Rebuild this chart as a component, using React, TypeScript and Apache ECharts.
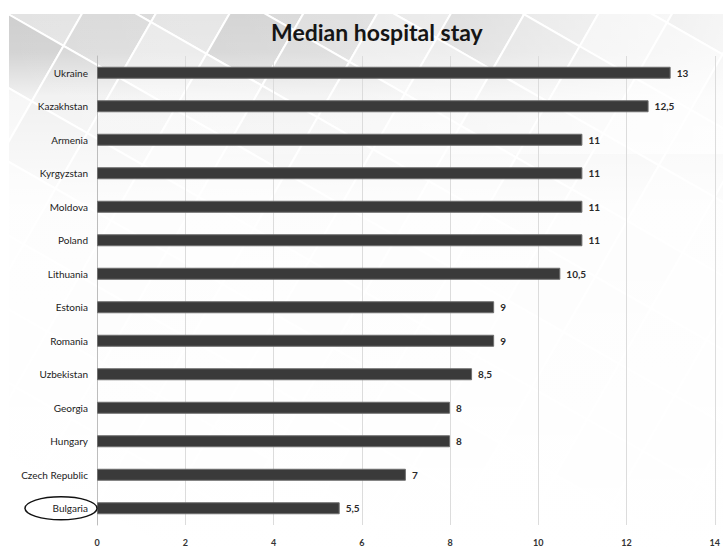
import React, { useEffect, useRef } from "react";
import * as echarts from "echarts";

const countries = [
  "Ukraine",
  "Kazakhstan",
  "Armenia",
  "Kyrgyzstan",
  "Moldova",
  "Poland",
  "Lithuania",
  "Estonia",
  "Romania",
  "Uzbekistan",
  "Georgia",
  "Hungary",
  "Czech Republic",
  "Bulgaria",
];
const stayDays = [13, 12.5, 11, 11, 11, 11, 10.5, 9, 9, 8.5, 8, 8, 7, 5.5];
const highlighted = "Bulgaria";

const FONT = "Lato, 'Open Sans', sans-serif";
const W = 723;
const H = 548;
const CARD_TOP = 14;

// grey tiled backdrop of the slide, faded out toward the bottom and right
function backdrop(): any[] {
  const shades = ["#cfcfcf", "#d9d9d9", "#e3e3e3", "#d4d4d4", "#e8e8e8"];
  const tiles: any[] = [];
  const size = 64;
  for (let i = -4; i < 14; i++) {
    for (let j = -6; j < 6; j++) {
      tiles.push({
        type: "rect",
        z: -30,
        shape: { x: i * size, y: j * size, width: size, height: size },
        style: {
          fill: shades[Math.abs(i * 3 + j * 2) % shades.length],
          stroke: "#ffffff",
          lineWidth: 2,
        },
        silent: true,
      });
    }
  }
  return [
    {
      type: "group",
      x: 8,
      y: CARD_TOP,
      rotation: -0.52,
      z: -30,
      silent: true,
      children: tiles,
    },
    {
      type: "rect",
      z: -20,
      silent: true,
      shape: { x: 0, y: CARD_TOP, width: W, height: H },
      style: {
        fill: new echarts.graphic.LinearGradient(0, 0, 0, 1, [
          { offset: 0, color: "rgba(255,255,255,0)" },
          { offset: 0.07, color: "rgba(255,255,255,0.1)" },
          { offset: 0.15, color: "rgba(255,255,255,0.7)" },
          { offset: 0.35, color: "rgba(255,255,255,0.95)" },
          { offset: 1, color: "rgba(255,255,255,1)" },
        ]),
      },
    },
    {
      type: "rect",
      z: -19,
      silent: true,
      shape: { x: 0, y: CARD_TOP, width: W, height: 140 },
      style: {
        fill: new echarts.graphic.LinearGradient(0, 0, 1, 0, [
          { offset: 0, color: "rgba(255,255,255,0)" },
          { offset: 0.5, color: "rgba(255,255,255,0.2)" },
          { offset: 1, color: "rgba(255,255,255,0.8)" },
        ]),
      },
    },
    {
      type: "rect",
      z: -18,
      silent: true,
      shape: { x: 0, y: 0, width: W, height: CARD_TOP },
      style: { fill: "#ffffff" },
    },
    {
      type: "rect",
      z: -18,
      silent: true,
      shape: { x: 0, y: 0, width: 9, height: H },
      style: { fill: "#ffffff" },
    },
  ];
}

export default function App() {
  const ref = useRef<HTMLDivElement>(null);

  useEffect(() => {
    if (!ref.current) return;
    const chart = echarts.init(ref.current, undefined, { renderer: "svg" });
    const bg = backdrop();

    chart.setOption({
      animation: false,
      backgroundColor: "#ffffff",
      title: {
        text: "Median hospital stay",
        left: 266,
        top: 15,
        textStyle: {
          fontFamily: FONT,
          fontSize: 23,
          fontWeight: "bold",
          color: "#151515",
        },
      },
      grid: { left: 97, right: 3, top: 56, bottom: 23, containLabel: false },
      xAxis: {
        type: "value",
        min: 0,
        max: 14,
        interval: 2,
        axisLine: { show: false },
        axisTick: { show: false },
        splitLine: { show: true, lineStyle: { color: "#dcdcdc", width: 1 } },
        axisLabel: {
          fontFamily: FONT,
          fontSize: 9,
          fontWeight: "bold",
          color: "#333333",
          margin: 13,
          showMaxLabel: true,
        },
      },
      yAxis: {
        type: "category",
        data: countries,
        inverse: true,
        axisLine: { show: true, lineStyle: { color: "#bdbdbd" } },
        axisTick: { show: false },
        axisLabel: {
          fontFamily: FONT,
          fontSize: 10,
          color: "#222222",
          margin: 9,
        },
      },
      series: [
        {
          type: "bar",
          data: stayDays,
          barWidth: 12,
          itemStyle: {
            color: "#3a3a3a",
            borderColor: "#6e6e6e",
            borderWidth: 1,
          },
          label: {
            show: true,
            position: "right",
            distance: 6,
            fontFamily: FONT,
            fontSize: 10,
            fontWeight: "bold",
            color: "#2a2a2a",
            formatter: (p: any) => String(p.value).replace(".", ","),
          },
        },
      ],
      graphic: bg,
    });

    // ring drawn around the highlighted country's label
    const yPix = chart.convertToPixel({ yAxisIndex: 0 }, highlighted) as number;
    chart.setOption({
      graphic: [
        ...bg,
        {
          type: "ellipse",
          shape: { cx: 61, cy: yPix, rx: 36, ry: 11.5 },
          style: { fill: "none", stroke: "#111111", lineWidth: 1.5 },
          z: 100,
          silent: true,
        },
      ],
    });

    return () => chart.dispose();
  }, []);

  return (
    <div
      ref={ref}
      style={{ position: "fixed", left: 0, top: 0, width: W, height: H }}
    />
  );
}
